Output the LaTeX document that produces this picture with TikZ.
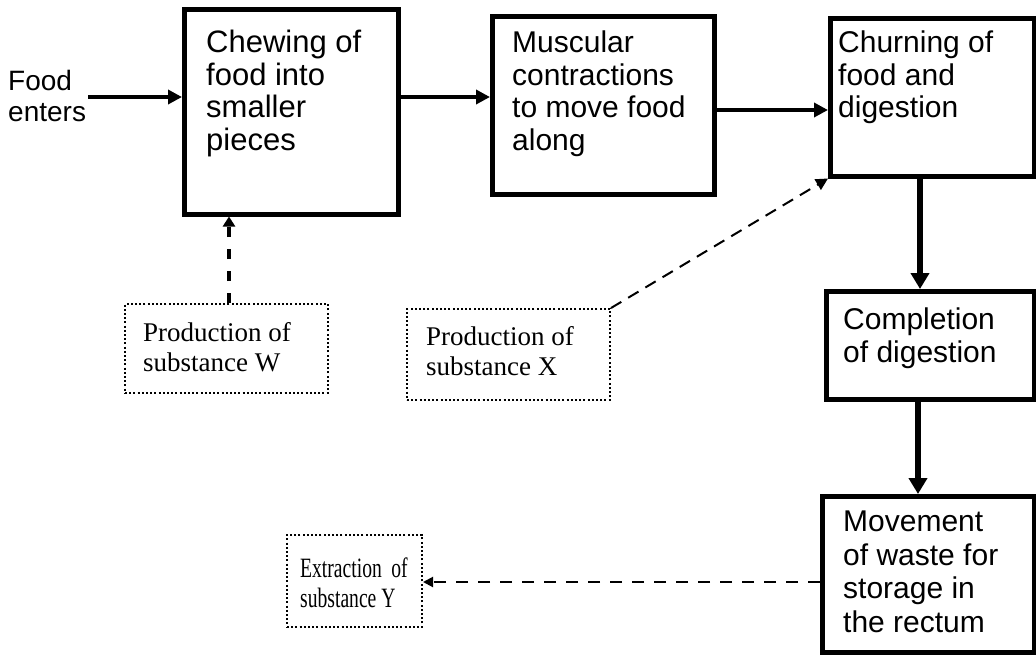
\documentclass[tikz,border=0pt]{standalone}
\usepackage{fontspec}
\setmainfont{Liberation Serif}
\newfontfamily\boxfont{Liberation Sans}
\newfontfamily\condfont[FakeStretch=0.7]{Liberation Serif}
\usetikzlibrary{arrows.meta,calc}
\begin{document}
\begin{tikzpicture}[x=1pt,y=-1pt,
  mainbox/.style={draw, line width=4.5pt, minimum width=#1, inner sep=0pt, anchor=north west},
  subbox/.style={draw, line width=2pt, dash pattern=on 2pt off 2.2pt, inner sep=0pt, anchor=north west},
  boxtext/.style={anchor=north west, inner sep=0pt, align=left, font=\boxfont\fontsize{30}{32.5}\selectfont},
  subtext/.style={anchor=north west, inner sep=0pt, align=left, font=\fontsize{27}{30}\selectfont},
  flow/.style={line width=3.5pt, -{Triangle[length=14pt,width=14pt]}},
  vflow/.style={line width=5.5pt, -{Triangle[length=16pt,width=18pt]}},
  thin dash/.style={line width=2pt, dash pattern=on 12pt off 8pt},
]
\useasboundingbox (0,0) rectangle (1036,654);
\fill[white] (0,0) rectangle (1036,654);

% main boxes
\node[mainbox=214pt, minimum height=205pt] (b1) at (182,7) {};
\node[mainbox=222pt, minimum height=178pt] (b2) at (490,14) {};
\node[mainbox=204pt, minimum height=158pt] (b3) at (828,16) {};
\node[mainbox=208pt, minimum height=108pt] (b4) at (824,289) {};
\node[mainbox=212pt, minimum height=156pt] (b5) at (820,494) {};

% main texts
\node[boxtext, font=\boxfont\fontsize{31}{32.5}\selectfont] (t1) at (206,30) {Chewing of\\food into\\smaller\\pieces};
\node[boxtext] (t2) at (512,31) {Muscular\\contractions\\to move food\\along};
\node[boxtext] (t3) at (838,31) {Churning of\\food and\\digestion};
\node[boxtext] (t4) at (843,308) {Completion\\of digestion};
\node[boxtext, font=\boxfont\fontsize{30}{33.5}\selectfont] (t5) at (843,511) {Movement\\of waste for\\storage in\\the rectum};
\node[boxtext, font=\boxfont\fontsize{28}{31}\selectfont] (food) at (8,70) {Food\\enters};

% dotted boxes
\node[subbox, minimum width=203pt, minimum height=89pt] (w) at (124,303) {};
\node[subbox, minimum width=203pt, minimum height=91pt] (x) at (406,308) {};
\node[subbox, minimum width=135pt, minimum height=92pt] (y) at (286,534) {};
\node[subtext] (tw) at (143,322) {Production of\\substance W};
\node[subtext] (tx) at (426,326) {Production of\\substance X};
\node[subtext, font=\condfont\fontsize{28}{30}\selectfont] (ty) at (300,558) {Extraction\, of\\substance Y};

% connectors
\coordinate (fe) at (88,97);
\draw[flow] (fe) -- (fe -| b1.west);
\draw[flow] (b1.east |- fe) -- (b2.west |- fe);
\coordinate (m23) at (713,110);
\draw[flow] (b2.east |- m23) -- (b3.west |- m23);
\coordinate (v34) at (920,0);
\draw[vflow] (b3.south -| v34) -- (b4.north -| v34);
\coordinate (v45) at (918,0);
\draw[vflow] (b4.south -| v45) -- (b5.north -| v45);
\coordinate (vw) at (229,0);
\draw[line width=4pt, dash pattern=on 10pt off 12pt, -{Triangle[length=10pt,width=12pt]}] (w.north -| vw) -- (b1.south -| vw);
\draw[thin dash, -{Triangle[length=12pt,width=12pt]}] (x.north east) -- (b3.south west);
\coordinate (hy) at (0,582);
\draw[line width=2pt, dash pattern=on 12pt off 10pt, -{Triangle[length=10pt,width=10pt]}] (b5.west |- hy) -- (y.east |- hy);
\end{tikzpicture}
\end{document}
